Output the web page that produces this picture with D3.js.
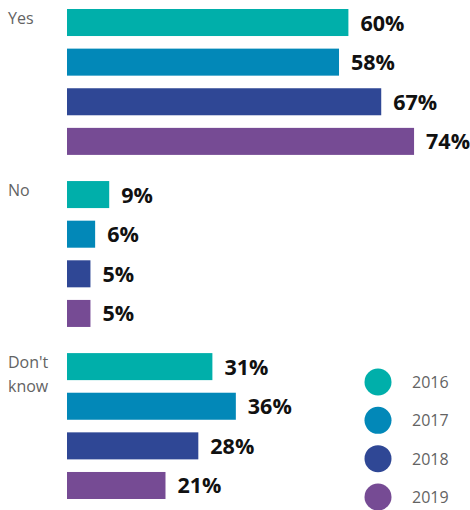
<!DOCTYPE html>
<html><head><meta charset="utf-8">
<script src="https://cdn.jsdelivr.net/npm/d3@7"></script>
<style>body{margin:0;background:#fff;}svg{display:block;}</style>
</head><body>
<svg id="chart" width="470" height="510"></svg>
<script>
const categories = ["Yes", "No", "Don't know"];
const categoryLines = [["Yes"], ["No"], ["Don't", "know"]];
const years = ["2016", "2017", "2018", "2019"];
const values2016 = [60, 9, 31];
const values2017 = [58, 6, 36];
const values2018 = [67, 5, 28];
const values2019 = [74, 5, 21];
const colors = ["#00AFAA", "#0288B8", "#2F4795", "#764B94"];

const seriesValues = [values2016, values2017, values2018, values2019];
const svg = d3.select("#chart");
const x = d3.scaleLinear().domain([0, 100]).range([67, 536]);
const y0 = d3.scaleBand().domain(categories).range([9, 499]).paddingInner(0.152).paddingOuter(0);
const y1 = d3.scaleBand().domain(years).range([0, y0.bandwidth()]).paddingInner(0.318).paddingOuter(0);
const color = d3.scaleOrdinal().domain(years).range(colors);

const data = [];
categories.forEach((c, ci) => years.forEach((yr, yi) => data.push({c, yr, v: seriesValues[yi][ci]})));

svg.selectAll("rect.bar").data(data).join("rect")
  .attr("class", "bar")
  .attr("x", x(0))
  .attr("y", d => y0(d.c) + y1(d.yr))
  .attr("width", d => x(d.v) - x(0))
  .attr("height", y1.bandwidth())
  .attr("fill", d => color(d.yr));

svg.selectAll("text.val").data(data).join("text")
  .attr("class", "val")
  .attr("x", d => x(d.v) + 12)
  .attr("y", d => y0(d.c) + y1(d.yr) + y1.bandwidth() / 2 + 8)
  .attr("font-family", "'Open Sans', sans-serif")
  .attr("font-weight", "bold")
  .attr("font-size", 21.5)
  .attr("fill", "#111")
  .text(d => d.v + "%");

const catG = svg.selectAll("text.cat").data(categories).join("text")
  .attr("class", "cat")
  .attr("x", 8)
  .attr("y", d => y0(d) + 15)
  .attr("font-family", "'Open Sans', sans-serif")
  .attr("font-size", 16)
  .attr("fill", "#636363");
catG.selectAll("tspan").data((d, i) => categoryLines[i]).join("tspan")
  .attr("x", 8)
  .attr("dy", (d, i) => i === 0 ? 0 : 24)
  .text(d => d);

const legY = d3.scalePoint().domain(years).range([382, 497]);
const leg = svg.selectAll("g.leg").data(years).join("g")
  .attr("class", "leg")
  .attr("transform", d => `translate(378,${legY(d)})`);
leg.append("circle").attr("r", 13.5).attr("fill", d => color(d));
leg.append("text")
  .attr("x", 34).attr("y", 6)
  .attr("font-family", "'Open Sans', sans-serif")
  .attr("font-size", 16)
  .attr("fill", "#636363")
  .text(d => d);
</script>
</body></html>
